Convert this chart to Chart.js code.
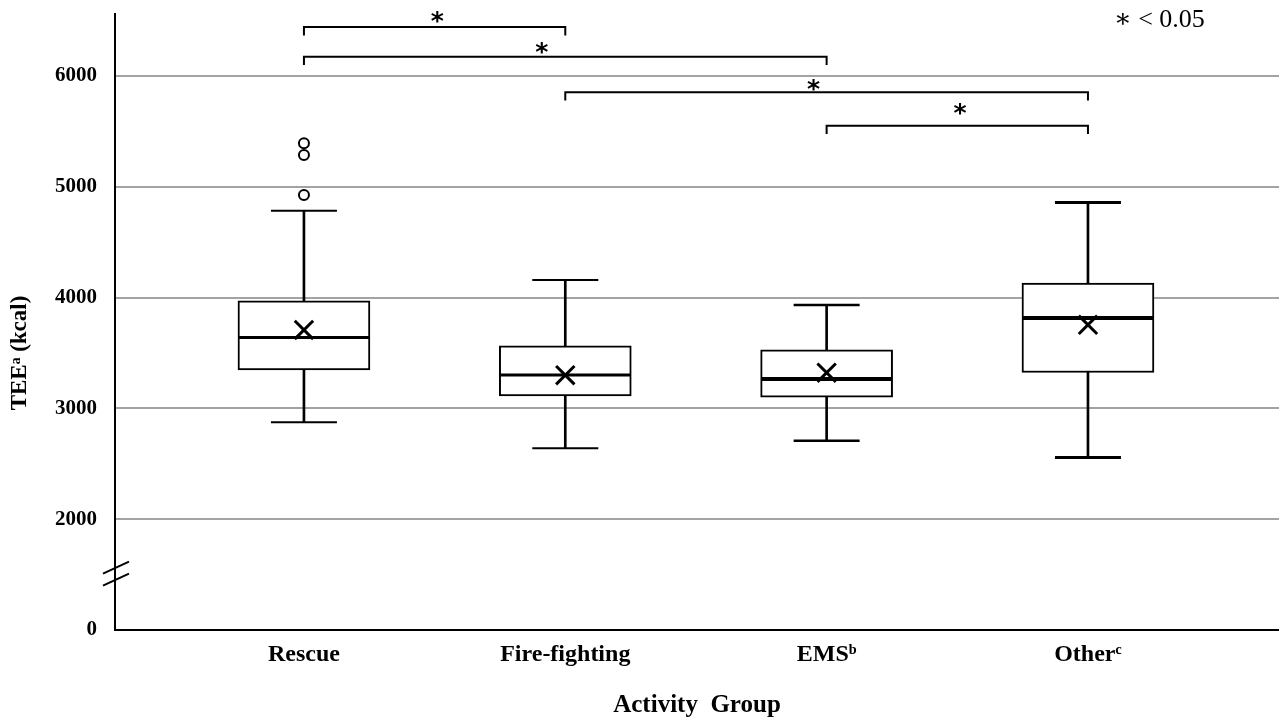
<!DOCTYPE html>
<html>
<head>
<meta charset="utf-8">
<script src="https://cdn.jsdelivr.net/npm/chart.js@4/dist/chart.umd.min.js"></script>
<style>
  html, body { margin: 0; padding: 0; background: #ffffff; overflow: hidden; }
  #wrap { width: 1279px; height: 722px; position: relative; }
  canvas { display: block; }
</style>
</head>
<body>
<div id="wrap"><canvas id="c" width="1279" height="722" style="width:1279px;height:722px"></canvas></div>
<script>
// ---------- data ----------
const categories   = ['Rescue', 'Fire-fighting', 'EMSᵇ', 'Otherᶜ'];
const whiskerLow   = [2875, 2640, 2709, 2556];
const quartile1    = [3347, 3113, 3102, 3324];
const medians      = [3639, 3302, 3266, 3817];
const quartile3    = [3970, 3564, 3528, 4132];
const whiskerHigh  = [4785, 4160, 3934, 4858];
const means        = [3708, 3300, 3322, 3755];
const outlierGroup  = [0, 0, 0];
const outlierValues = [5394, 5288, 4927];

// y axis with a break: "0" is shown one step below 2000
const yTickPositions = [1000, 2000, 3000, 4000, 5000, 6000];
const yTickLabels    = ['0', '2000', '3000', '4000', '5000', '6000'];
const yBreakValue    = 1500;

// significance brackets (group index from -> to, bracket level in kcal)
const bracketFrom  = [0, 0, 1, 2];
const bracketTo    = [1, 2, 3, 3];
const bracketLevel = [6442, 6175, 5854, 5552];
const bracketDrop  = 75;
const starX = [0.51, 0.91, 1.95, 2.51];
const starY = [6536, 6256, 5920, 5700];

// ---------- derived tables ----------
const whiskerData = categories.map((_, i) => ({ x: i, y: [whiskerLow[i], whiskerHigh[i]] }));
const boxData     = categories.map((_, i) => ({ x: i, y: [quartile1[i], quartile3[i]] }));
const capData     = categories.flatMap((_, i) => [{ x: i, y: whiskerLow[i] }, { x: i, y: whiskerHigh[i] }]);
const medianData  = categories.map((_, i) => ({ x: i, y: medians[i] }));
const meanData    = categories.map((_, i) => ({ x: i, y: means[i] }));
const outlierData = outlierValues.map((v, k) => ({ x: outlierGroup[k], y: v }));
const bracketSets = bracketFrom.map((f, k) => ({
  type: 'line',
  data: [
    { x: f, y: bracketLevel[k] - bracketDrop },
    { x: f, y: bracketLevel[k] },
    { x: bracketTo[k], y: bracketLevel[k] },
    { x: bracketTo[k], y: bracketLevel[k] - bracketDrop }
  ],
  borderColor: '#000', borderWidth: 2, pointRadius: 0, fill: false, tension: 0,
  borderJoinStyle: 'miter', order: 0, clip: false
}));

const SERIF = '"Liberation Serif", "DejaVu Serif", serif';

function drawCentered(ctx, text, cx, cy) {
  const m = ctx.measureText(text);
  const w = m.actualBoundingBoxRight + m.actualBoundingBoxLeft;
  const h = m.actualBoundingBoxAscent + m.actualBoundingBoxDescent;
  ctx.textAlign = 'left';
  ctx.textBaseline = 'alphabetic';
  ctx.fillText(text, cx - w / 2 + m.actualBoundingBoxLeft, cy - h / 2 + m.actualBoundingBoxAscent);
}

const annotate = {
  id: 'annotate',
  afterDraw(chart) {
    const { ctx, chartArea, scales: { x, y } } = chart;
    ctx.save();
    ctx.fillStyle = '#000';
    ctx.strokeStyle = '#000';

    // asterisks above brackets
    ctx.font = 'bold 25px "DejaVu Sans"';
    starX.forEach((sx, k) => drawCentered(ctx, '*', x.getPixelForValue(sx), y.getPixelForValue(starY[k])));

    // significance note
    ctx.font = '26px ' + SERIF;
    ctx.textAlign = 'left';
    ctx.textBaseline = 'middle';
    ctx.fillText('∗ < 0.05', chartArea.right - 165, chartArea.top + 6);

    // y axis title
    ctx.save();
    ctx.translate(chartArea.left - 95, (chartArea.top + chartArea.bottom) / 2 + 31);
    ctx.rotate(-Math.PI / 2);
    ctx.font = 'bold 23px ' + SERIF;
    ctx.textAlign = 'center';
    ctx.textBaseline = 'middle';
    ctx.fillText('TEEᵃ (kcal)', 0, 0);
    ctx.restore();

    // axis break marks
    const bx = chartArea.left + 1;
    const by = y.getPixelForValue(yBreakValue);
    ctx.lineWidth = 2;
    [-7, 5].forEach(off => {
      ctx.beginPath();
      ctx.moveTo(bx - 13, by + off + 6);
      ctx.lineTo(bx + 13, by + off - 6);
      ctx.stroke();
    });
    ctx.restore();
  }
};

new Chart(document.getElementById('c'), {
  type: 'bar',
  data: {
    datasets: [
      ...bracketSets,
      {
        type: 'scatter', data: outlierData, order: 1,
        pointStyle: 'circle', pointRadius: 5, pointBorderWidth: 2,
        pointBorderColor: '#000', pointBackgroundColor: '#fff'
      },
      {
        type: 'scatter', data: meanData, order: 1,
        pointStyle: 'crossRot', pointRadius: 13, pointBorderWidth: 3,
        pointBorderColor: '#000', pointBackgroundColor: '#000'
      },
      {
        type: 'scatter', data: medianData, order: 2,
        pointStyle: 'line', pointRadius: 65, pointBorderWidth: [3, 3, 4, 4],
        pointBorderColor: '#000'
      },
      {
        type: 'scatter', data: capData, order: 3,
        pointStyle: 'line', pointRadius: 33, pointBorderWidth: [2, 2, 2, 2, 2.5, 2.5, 3, 3],
        pointBorderColor: '#000'
      },
      {
        type: 'bar', data: boxData, order: 4, grouped: false,
        barThickness: 132, backgroundColor: '#fff', borderColor: '#000',
        borderWidth: 2, borderSkipped: false
      },
      {
        type: 'bar', data: whiskerData, order: 5, grouped: false,
        barThickness: [2, 2, 3, 3], backgroundColor: '#000', borderWidth: 0
      }
    ]
  },
  options: {
    responsive: false,
    animation: false,
    events: [],
    layout: { autoPadding: false, padding: { top: 14, right: 0, bottom: 0, left: 0 } },
    plugins: { legend: { display: false }, tooltip: { enabled: false } },
    scales: {
      x: {
        type: 'linear',
        offset: false,
        min: -0.723, max: 3.731,
        afterBuildTicks: s => { s.ticks = categories.map((_, i) => ({ value: i })); },
        afterFit: s => { s.height = 92; s.paddingLeft = 0; s.paddingRight = 0; },
        grid: { display: false, drawTicks: false },
        border: { display: true, color: '#000', width: 2 },
        ticks: {
          color: '#000', padding: 10, maxRotation: 0, autoSkip: false,
          font: { family: SERIF, size: 24, weight: 'bold' },
          callback: v => categories[v]
        },
        title: {
          display: true, text: 'Activity  Group', color: '#000',
          font: { family: SERIF, size: 25, weight: 'bold' },
          padding: { top: 0, bottom: 1 }
        }
      },
      y: {
        type: 'linear',
        min: 1000, max: 6560,
        afterBuildTicks: s => { s.ticks = yTickPositions.map(v => ({ value: v })); },
        afterFit: s => { s.width = 115; s.paddingTop = 0; s.paddingBottom = 0; },
        grid: {
          drawTicks: false, lineWidth: 2,
          color: c => (c.tick && c.tick.value === yTickPositions[0]) ? 'rgba(0,0,0,0)' : '#a3a3a3'
        },
        border: { display: true, color: '#000', width: 2 },
        ticks: {
          color: '#000', padding: 18,
          font: { family: SERIF, size: 21, weight: 'bold' },
          callback: v => yTickLabels[yTickPositions.indexOf(v)]
        }
      }
    }
  },
  plugins: [annotate]
});
</script>
</body>
</html>
